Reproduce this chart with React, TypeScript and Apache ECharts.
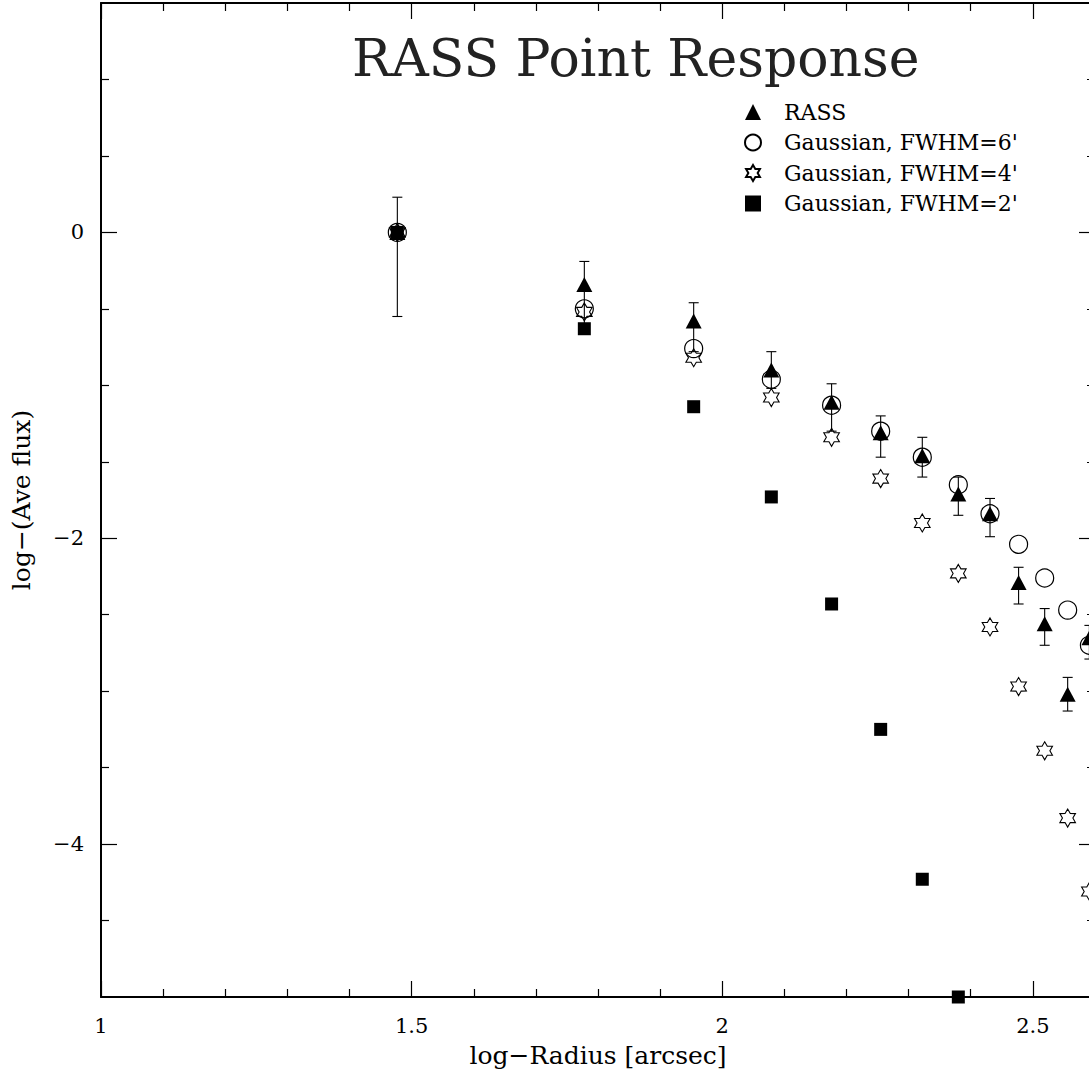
import React, { useEffect, useRef } from "react";
import * as echarts from "echarts";

const FONT = "DejaVu Serif";

// log-Radius positions of the radial bins
const logRadius = [1.477, 1.778, 1.954, 2.079, 2.176, 2.255, 2.322, 2.38, 2.431, 2.477, 2.519, 2.556, 2.591];
// RASS measured profile with error bars
const rassFlux = [0, -0.34, -0.58, -0.9, -1.11, -1.31, -1.46, -1.71, -1.84, -2.29, -2.56, -3.02, -2.65];
const rassErrHigh = [0.23, -0.19, -0.46, -0.78, -0.99, -1.2, -1.34, -1.6, -1.74, -2.19, -2.46, -2.91, -2.57];
const rassErrLow = [-0.55, -0.6, -0.78, -1.02, -1.3, -1.47, -1.6, -1.85, -1.99, -2.43, -2.7, -3.13, -2.79];
// Gaussian models
const gauss6 = [0, -0.5, -0.76, -0.96, -1.13, -1.3, -1.47, -1.65, -1.84, -2.04, -2.26, -2.47, -2.7];
const gauss4 = [0, -0.52, -0.82, -1.08, -1.34, -1.61, -1.9, -2.23, -2.58, -2.97, -3.39, -3.83, -4.31];
const gauss2 = [0, -0.63, -1.14, -1.73, -2.43, -3.25, -4.23, -5.0];

const seriesNames = ["RASS", "Gaussian, FWHM=6'", "Gaussian, FWHM=4'", "Gaussian, FWHM=2'"];

const xMajorTicks = [1, 1.5, 2, 2.5];
const xMinorTicks = [1.1, 1.2, 1.3, 1.4, 1.6, 1.7, 1.8, 1.9, 2.1, 2.2, 2.3, 2.4];
const yMajorTicks = [-4, -2, 0];
const yMinorTicks = [-4.5, -3.5, -3, -2.5, -1.5, -1, -0.5, 0.5, 1];

const X_MIN = 1;
const X_MAX = 2.6;
const Y_MIN = -5;
const Y_MAX = 1.5;

const STAR =
  "path://M50,0 L64.5,24.9 L93.3,25 L79,50 L93.3,75 L64.5,75.1 L50,100 L35.5,75.1 L6.7,75 L21,50 L6.7,25 L35.5,24.9 Z";

const fmtY = (v: number) => (v < 0 ? "\u2212" + Math.abs(v) : String(v));

export default function App() {
  const ref = useRef<HTMLDivElement>(null);

  useEffect(() => {
    if (!ref.current) return;
    const chart = echarts.init(ref.current, undefined, { renderer: "svg" });

    const tickStyle = { color: "#000", width: 1.2 };
    const frameLine = { show: true, onZero: false, lineStyle: { color: "#000", width: 2 } };
    const noLine = { show: false, onZero: false };

    const xBase = { type: "value", min: X_MIN, max: X_MAX, splitLine: { show: false } };
    const yBase = { type: "value", min: Y_MIN, max: Y_MAX, splitLine: { show: false } };

    const option: any = {
      animation: false,
      backgroundColor: "#fff",
      title: {
        text: "RASS Point Response",
        left: 347,
        top: 27,
        textStyle: { fontFamily: FONT, fontSize: 52, fontWeight: "normal", color: "#222" },
      },
      legend: {
        orient: "vertical",
        left: 739,
        top: 96,
        itemWidth: 16,
        itemHeight: 16,
        itemGap: 8.5,
        data: seriesNames,
        selectedMode: false,
        textStyle: { fontFamily: FONT, fontSize: 22, lineHeight: 22, color: "#000", padding: [0, 0, 0, 18] },
      },
      grid: { left: 101, top: 3, width: 994, height: 994, containLabel: false },
      xAxis: [
        {
          ...xBase,
          position: "bottom",
          axisLine: frameLine,
          axisTick: { show: true, inside: true, length: 16, customValues: xMajorTicks, lineStyle: tickStyle },
          axisLabel: {
            show: true,
            customValues: xMajorTicks,
            margin: 18,
            fontFamily: FONT,
            fontSize: 21,
            color: "#000",
          },
          name: "log\u2212Radius [arcsec]",
          nameLocation: "middle",
          nameGap: 46,
          nameTextStyle: { fontFamily: FONT, fontSize: 25, color: "#000" },
        },
        {
          ...xBase,
          position: "bottom",
          axisLine: noLine,
          axisTick: { show: true, inside: true, length: 8, customValues: xMinorTicks, lineStyle: tickStyle },
          axisLabel: { show: false },
        },
        {
          ...xBase,
          position: "top",
          axisLine: frameLine,
          axisTick: { show: true, inside: true, length: 16, customValues: xMajorTicks, lineStyle: tickStyle },
          axisLabel: { show: false },
        },
        {
          ...xBase,
          position: "top",
          axisLine: noLine,
          axisTick: { show: true, inside: true, length: 8, customValues: xMinorTicks, lineStyle: tickStyle },
          axisLabel: { show: false },
        },
      ],
      yAxis: [
        {
          ...yBase,
          position: "left",
          axisLine: frameLine,
          axisTick: { show: true, inside: true, length: 16, customValues: yMajorTicks, lineStyle: tickStyle },
          axisLabel: {
            show: true,
            customValues: yMajorTicks,
            margin: 17,
            fontFamily: FONT,
            fontSize: 21,
            color: "#000",
            formatter: fmtY,
          },
          name: "log\u2212(Ave flux)",
          nameLocation: "middle",
          nameGap: 67,
          nameTextStyle: { fontFamily: FONT, fontSize: 25, color: "#000" },
        },
        {
          ...yBase,
          position: "left",
          axisLine: noLine,
          axisTick: { show: true, inside: true, length: 8, customValues: yMinorTicks, lineStyle: tickStyle },
          axisLabel: { show: false },
        },
        {
          ...yBase,
          position: "right",
          axisLine: frameLine,
          axisTick: { show: true, inside: true, length: 16, customValues: yMajorTicks, lineStyle: tickStyle },
          axisLabel: { show: false },
        },
        {
          ...yBase,
          position: "right",
          axisLine: noLine,
          axisTick: { show: true, inside: true, length: 8, customValues: yMinorTicks, lineStyle: tickStyle },
          axisLabel: { show: false },
        },
      ],
      series: [
        {
          type: "custom",
          name: "RASS errors",
          silent: true,
          clip: false,
          z: 1,
          data: logRadius.map((x, i) => [x, rassErrLow[i], rassErrHigh[i]]),
          encode: { x: 0, y: [1, 2] },
          renderItem: (_params: any, api: any) => {
            const x = api.value(0);
            const lo = api.value(1);
            const hi = api.value(2);
            const pHi = api.coord([x, hi]);
            const pLo = api.coord([x, lo]);
            const w = 5;
            const style = { stroke: "#000", lineWidth: 1.1 };
            return {
              type: "group",
              children: [
                { type: "line", shape: { x1: pHi[0], y1: pHi[1], x2: pLo[0], y2: pLo[1] }, style },
                { type: "line", shape: { x1: pHi[0] - w, y1: pHi[1], x2: pHi[0] + w, y2: pHi[1] }, style },
                { type: "line", shape: { x1: pLo[0] - w, y1: pLo[1], x2: pLo[0] + w, y2: pLo[1] }, style },
              ],
            };
          },
        },
        {
          type: "scatter",
          name: seriesNames[0],
          symbol: "triangle",
          symbolSize: [16, 15],
          clip: false,
          z: 2,
          itemStyle: { color: "#000", opacity: 1 },
          data: logRadius.map((x, i) => [x, rassFlux[i]]),
        },
        {
          type: "scatter",
          name: seriesNames[1],
          symbol: "circle",
          symbolSize: 18,
          clip: false,
          z: 3,
          itemStyle: { color: "rgba(0,0,0,0)", borderColor: "#000", borderWidth: 1.2, opacity: 1 },
          data: logRadius.map((x, i) => [x, gauss6[i]]),
        },
        {
          type: "scatter",
          name: seriesNames[2],
          symbol: STAR,
          symbolKeepAspect: true,
          symbolSize: 18,
          clip: false,
          z: 4,
          itemStyle: { color: "rgba(255,255,255,0)", borderColor: "#000", borderWidth: 1.1, opacity: 1 },
          data: logRadius.map((x, i) => [x, gauss4[i]]),
        },
        {
          type: "scatter",
          name: seriesNames[3],
          symbol: "rect",
          symbolSize: 13,
          clip: false,
          z: 5,
          itemStyle: { color: "#000", opacity: 1 },
          data: gauss2.map((y, i) => [logRadius[i], y]),
        },
      ],
    };

    chart.setOption(option);
    return () => chart.dispose();
  }, []);

  return (
    <div
      style={{
        position: "fixed",
        left: 0,
        top: 0,
        width: 1089,
        height: 1076,
        overflow: "hidden",
        background: "#fff",
      }}
    >
      <div ref={ref} style={{ width: 1110, height: 1076 }} />
    </div>
  );
}
